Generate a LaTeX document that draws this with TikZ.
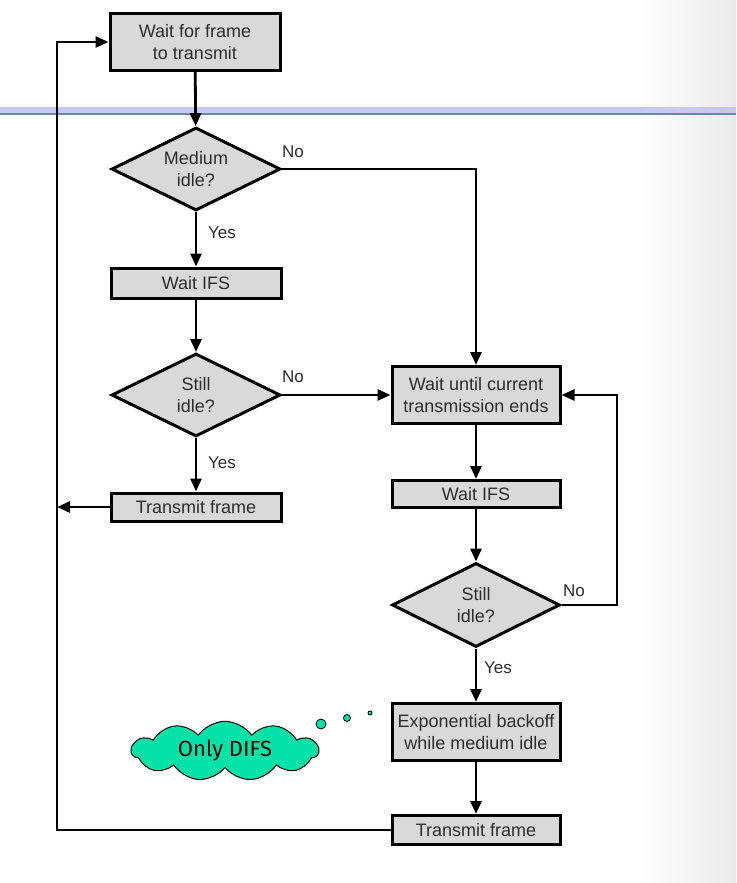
\documentclass[tikz,border=0pt]{standalone}
\usepackage{fontspec}
\setmainfont{Liberation Sans}
\newfontfamily\cloudfont{Fira Sans}
\usetikzlibrary{shapes.geometric,shapes.symbols,arrows.meta}
\definecolor{boxgray}{RGB}{217,217,217}
\definecolor{txtgray}{RGB}{45,45,45}
\definecolor{cloudgreen}{RGB}{0,226,168}
\definecolor{bandtop}{RGB}{200,200,244}
\definecolor{bandbot}{RGB}{110,135,165}
\definecolor{sidegray}{RGB}{234,234,234}
\begin{document}
\begin{tikzpicture}[x=1pt,y=-1pt,
  procbox/.style={draw=black, line width=3pt, fill=boxgray, text=txtgray, align=center, inner sep=0pt, font=\fontsize{18}{22}\selectfont},
  decis/.style={diamond, aspect=2, draw=black, line width=3pt, fill=boxgray, text=txtgray, align=center, inner sep=0pt, minimum width=169pt, minimum height=83pt, font=\fontsize{18}{22}\selectfont},
  conn/.style={line width=2.8pt, -{Triangle[length=13pt,width=11pt]}},
  lbl/.style={text=txtgray, font=\fontsize{17}{20}\selectfont, inner sep=0pt},
  bubble/.style={circle, draw=black, fill=cloudgreen, inner sep=0pt, line width=0.8pt}
]
\useasboundingbox (0,0) rectangle (736,883);
\fill[white] (0,0) rectangle (736,883);
\shade[left color=white, right color=sidegray] (640,0) rectangle (736,883);
\fill[bandtop] (0,107) rectangle (736,113);
\fill[bandbot] (0,113) rectangle (736,115);

% left column
\node[procbox, minimum width=170pt, minimum height=57pt] (b1) at (195,42) {Wait for frame\\to transmit};
\node[decis] (d1) at (196,169) {Medium\\idle?};
\node[procbox, minimum width=170pt, minimum height=30pt] (b2) at (196,283) {Wait IFS};
\node[decis] (d2) at (196,395) {Still\\idle?};
\node[procbox, minimum width=170pt, minimum height=28pt] (b3) at (196,507) {Transmit frame};

% right column
\node[procbox, minimum width=168pt, minimum height=57pt] (b5) at (476,395) {Wait until current\\transmission ends};
\node[procbox, minimum width=168pt, minimum height=27pt] (b6) at (476,494) {Wait IFS};
\node[decis, minimum width=168pt, minimum height=84pt] (d3) at (476,605) {Still\\idle?};
\node[procbox, minimum width=168pt, minimum height=57pt] (b7) at (476,732) {Exponential backoff\\while medium idle};
\node[procbox, minimum width=168pt, minimum height=29pt] (b8) at (476,830) {Transmit frame};

\coordinate (loopx) at (57,0);
\coordinate (retx) at (617,0);

% connectors
\draw[conn] (b1) -- (d1);
\draw[conn] (d1.east) -| (b5.north);
\draw[conn] (d1) -- (b2);
\draw[conn] (b2) -- (d2);
\draw[conn] (d2.east) -- (b5.west);
\draw[conn] (d2) -- (b3);
\draw[conn] (b3.west) -- (b3.west -| loopx);
\draw[conn] (b5) -- (b6);
\draw[conn] (b6) -- (d3);
\draw[conn] (d3.east) -- (d3.east -| retx) |- (b5.east);
\draw[conn] (d3) -- (b7);
\draw[conn] (b7) -- (b8);
\draw[conn] (b8.west) -- (b8.west -| loopx) |- (b1.west);

% labels
\node[lbl] (no1) at (293,152) {No};
\node[lbl] (yes1) at (222,233) {Yes};
\node[lbl] (no2) at (293,377) {No};
\node[lbl] (yes2) at (222,463) {Yes};
\node[lbl] (no3) at (574,591) {No};
\node[lbl] (yes3) at (498,668) {Yes};

% callout cloud
\node[cloud, cloud puffs=11, cloud puff arc=110, aspect=3.2, draw=black, line width=1pt, fill=cloudgreen, minimum width=187pt, minimum height=59pt, inner sep=0pt] (cl) at (225,751) {\cloudfont\fontsize{22}{26}\selectfont Only DIFS};
\node[bubble, minimum size=10pt] (bub1) at (321,724) {};
\node[bubble, minimum size=7pt] (bub2) at (347,718) {};
\node[bubble, minimum size=4pt] (bub3) at (370,713) {};
\end{tikzpicture}
\end{document}
